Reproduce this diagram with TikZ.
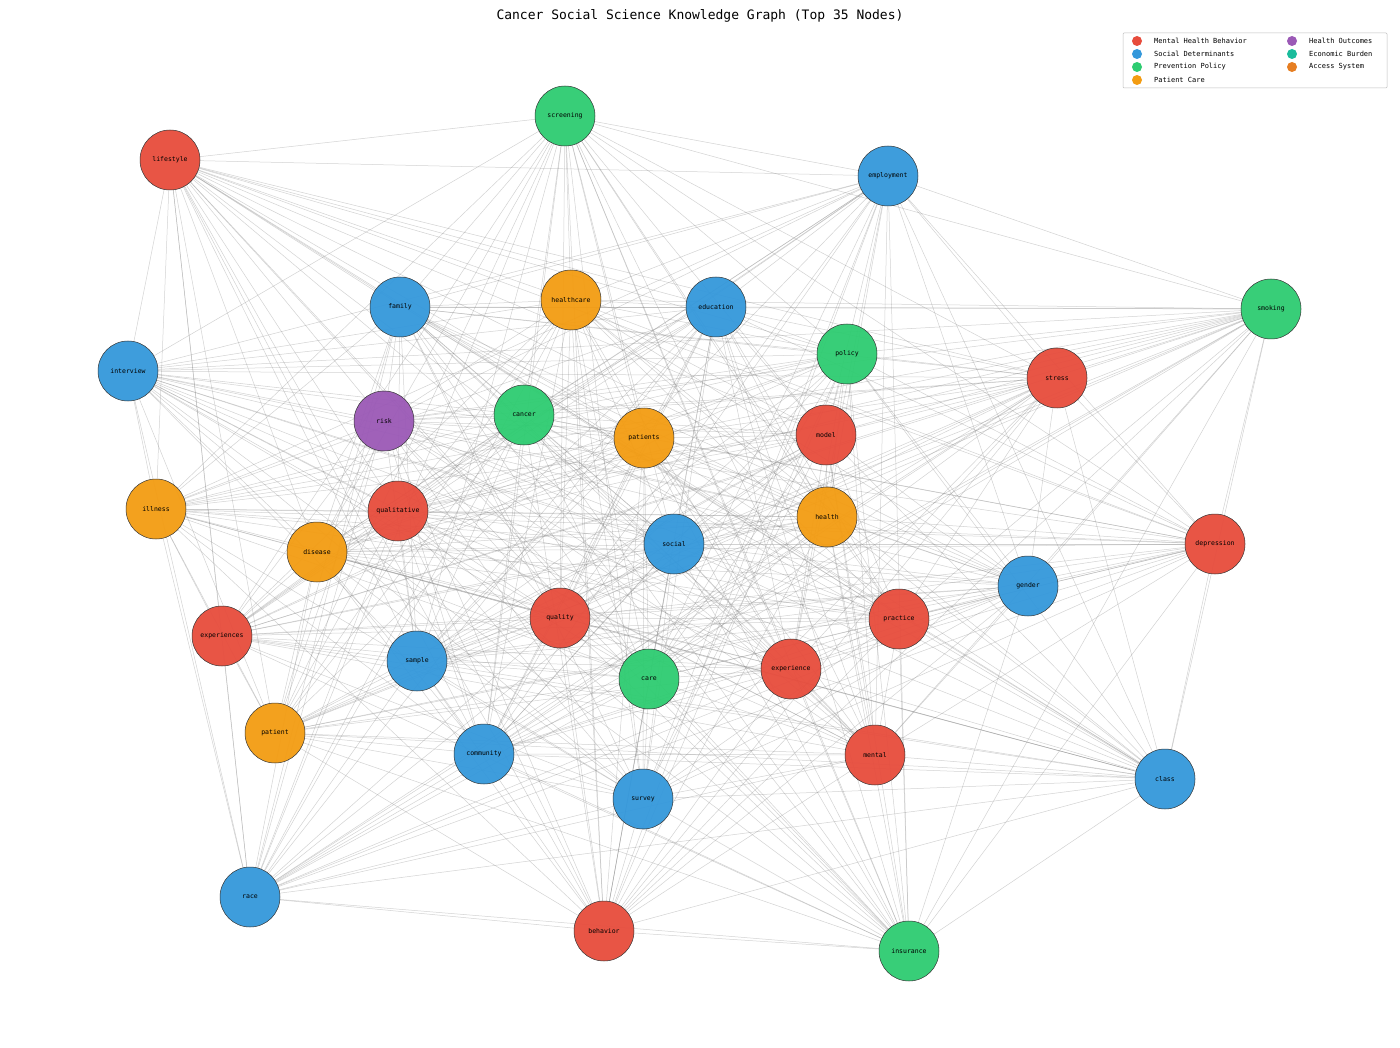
\documentclass[tikz,border=0pt]{standalone}
\usepackage{fontspec}
\setmainfont{DejaVu Sans Mono}
\usetikzlibrary{backgrounds}
\definecolor{cR}{HTML}{E74C3C}
\definecolor{cB}{HTML}{3498DB}
\definecolor{cG}{HTML}{2ECC71}
\definecolor{cO}{HTML}{F39C12}
\definecolor{cP}{HTML}{9B59B6}
\definecolor{cT}{HTML}{1ABC9C}
\definecolor{cA}{HTML}{E67E22}
\begin{document}
\begin{tikzpicture}[x=1pt,y=-1pt,
  gnode/.style={circle,draw=black!80,line width=0.5pt,minimum size=60pt,inner sep=0pt,font=\fontsize{6.5}{7}\selectfont,fill opacity=0.95,text opacity=1},
  edge/.style={draw=gray,line width=0.5pt,opacity=0.35},
  leg/.style={circle,inner sep=0pt,minimum size=10pt},
  legt/.style={anchor=west,font=\fontsize{7}{8}\selectfont,inner sep=0pt}]
\useasboundingbox (0,0) rectangle (1400,1048);
\node[font=\fontsize{13}{15}\selectfont] (title) at (700,16) {Cancer Social Science Knowledge Graph (Top 35 Nodes)};
\foreach \n/\x/\y/\c in {screening/565/116/cG,lifestyle/170/160/cR,employment/888/176/cB,family/400/307/cB,healthcare/571/300/cO,education/716/307/cB,smoking/1271/309/cG,policy/847/354/cG,interview/128/371/cB,stress/1057/378/cR,risk/384/421/cP,cancer/524/415/cG,patients/644/438/cO,model/826/435/cR,illness/156/509/cO,qualitative/398/511/cR,health/827/517/cO,social/674/544/cB,depression/1215/544/cR,disease/317/552/cO,gender/1028/586/cB,quality/560/618/cR,practice/899/619/cR,experiences/222/636/cR,sample/417/661/cB,care/649/679/cG,experience/791/669/cR,patient/275/733/cO,community/484/754/cB,mental/875/755/cR,class/1165/779/cB,survey/643/799/cB,race/250/897/cB,behavior/604/931/cR,insurance/909/951/cG}
  {\node[gnode,fill=\c] (\n) at (\x,\y) {\n};}
\begin{scope}[on background layer]
\fill[white] (0,0) rectangle (1400,1048);
\foreach \a [count=\i] in {screening,lifestyle,employment,family,healthcare,education,smoking,policy,interview,stress,risk,cancer,patients,model,illness,qualitative,health,social,depression,disease,gender,quality,practice,experiences,sample,care,experience,patient,community,mental,class,survey,race,behavior,insurance}{
 \foreach \b [count=\j] in {screening,lifestyle,employment,family,healthcare,education,smoking,policy,interview,stress,risk,cancer,patients,model,illness,qualitative,health,social,depression,disease,gender,quality,practice,experiences,sample,care,experience,patient,community,mental,class,survey,race,behavior,insurance}{
  \pgfmathtruncatemacro\k{mod(\i*7+\j*3,5)}
  \ifnum\j>\i \ifnum\k>0 \draw[edge] (\a) -- (\b); \fi\fi
 }}
\end{scope}
\draw[gray!50,line width=0.5pt,rounded corners=1pt] (1123,33) rectangle (1387,88);
\node[leg,fill=cR] (l1) at (1137,41) {}; \node[legt] (t1) at (1154,41) {Mental Health Behavior};
\node[leg,fill=cB] (l2) at (1137,54) {}; \node[legt] (t2) at (1154,54) {Social Determinants};
\node[leg,fill=cG] (l3) at (1137,67) {}; \node[legt] (t3) at (1154,67) {Prevention Policy};
\node[leg,fill=cO] (l4) at (1137,80) {}; \node[legt] (t4) at (1154,80) {Patient Care};
\node[leg,fill=cP] (l5) at (1292,41) {}; \node[legt] (t5) at (1309,41) {Health Outcomes};
\node[leg,fill=cT] (l6) at (1292,54) {}; \node[legt] (t6) at (1309,54) {Economic Burden};
\node[leg,fill=cA] (l7) at (1292,67) {}; \node[legt] (t7) at (1309,67) {Access System};
\end{tikzpicture}
\end{document}
